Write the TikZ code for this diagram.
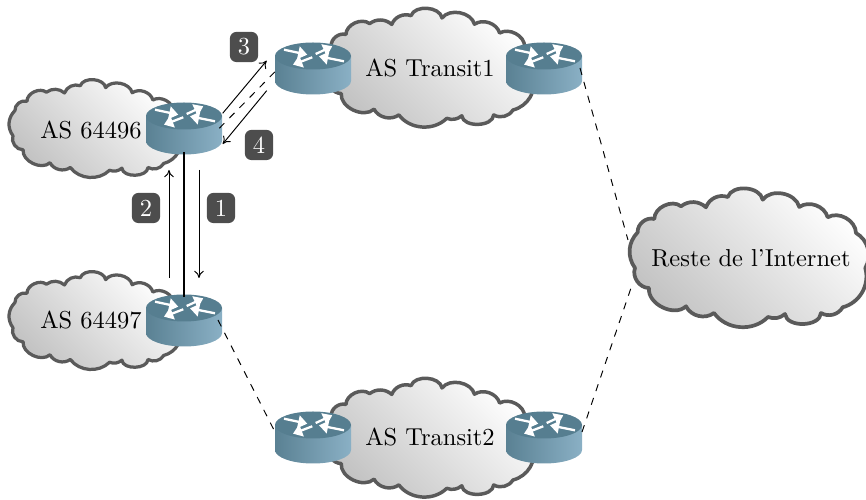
\documentclass[tikz,border=0pt]{standalone}
\usetikzlibrary{arrows.meta,calc}
\definecolor{rtop}{HTML}{567E90}
\definecolor{rl}{HTML}{5A8193}
\definecolor{rr}{HTML}{8AB0C5}
\definecolor{cloudedge}{HTML}{5A5A5A}
\definecolor{badgefill}{HTML}{4D4D4D}
\tikzset{
  cloudbody/.style={draw=cloudedge,line join=round,left color=black!24,right color=white,shading angle=135},
  astext/.style={shape=rectangle,inner sep=0pt,text=black,font=\fontsize{10.2}{12}\selectfont},
  routerbox/.style={shape=rectangle,minimum width=76*0.4167pt,minimum height=52*0.4167pt,inner sep=0pt,outer sep=0pt},
  badge/.style={shape=rectangle,rounded corners=2.8pt,fill=badgefill,text=white,minimum width=11.8pt,minimum height=12.6pt,inner sep=0pt,font=\fontsize{10.2}{12}\selectfont},
  wire/.style={line width=0.4pt,-{To[length=3pt,width=4pt]}},
  dashwire/.style={line width=0.4pt,dash pattern=on 3pt off 3pt},
  whitearrow/.style={white,line width=0.95pt,-{Triangle[length=3.8pt,width=5.2pt]}},
  bl/.style={bend left=#1},
}
\newcommand{\cloudat}[5]{%
  \begin{scope}[shift={(#1,#2)},xscale=#3,yscale=#4]
    \path[cloudbody,line width=#5]
      (-110.3,-24.7) to[bl=55] (-93.7,-38) to[bl=65] (-67,-50.7) to[bl=40] (-42,-49.7)
      to[bl=45] (-20.3,-60) to[bl=75] (14.7,-57.3) to[bl=65] (51.3,-50) to[bl=55] (79.7,-39.7)
      to[bl=60] (108,-24) to[bl=45] (117.3,11) to[bl=45] (94.7,50.3) to[bl=45] (73,56)
      to[bl=85] (37,57) to[bl=30] (20,60) to[bl=50] (-34,56) to[bl=50] (-62,49.3)
      to[bl=70] (-99,31) to[bl=55] (-113,11) to[bl=40] (-110.3,-24.7) -- cycle;
  \end{scope}
}
\newcommand{\router}[3]{%
  \begin{scope}[shift={(#2,#3)}]
    \path[left color=rl,right color=rr] (-38,-12) -- (-38,13) arc[start angle=180,end angle=0,x radius=38,y radius=13.5] -- (38,-12) -- cycle;
    \fill[rtop] (0,-12) ellipse[x radius=38,y radius=13.5];
    \draw[whitearrow] (-29,-18.3) -- (-5.7,-13.3);
    \draw[whitearrow] (2.7,-14) -- (19.3,-21.7);
    \draw[whitearrow] (-0.7,-10.7) -- (-20,-3.3);
    \draw[whitearrow] (31,-6.7) -- (6,-11.7);
  \end{scope}
  \node[routerbox] (#1) at (#2,#3) {};
}
\begin{document}
\begin{tikzpicture}[x=0.4167pt,y=-0.4167pt]
\useasboundingbox (0,0) rectangle (866,500);
\cloudat{95}{128}{.726}{.705}{1.35pt}
\cloudat{95}{320}{.726}{.705}{1.35pt}
\cloudat{429}{67}{.886}{.856}{1.45pt}
\cloudat{429}{437}{.886}{.856}{1.45pt}
\cloudat{748}{257}{1}{1}{1.55pt}
\node[astext] (c1) at (91,130) {AS 64496};
\node[astext] (c2) at (91,320) {AS 64497};
\node[astext] (t1) at (430,68) {AS Transit1};
\node[astext] (t2) at (430,437) {AS Transit2};
\node[astext] (net) at (751,258) {Reste de l'Internet};
\coordinate (netu) at (628,240);
\coordinate (netd) at (632,285);
\router{r1}{184}{128}
\router{r2}{184}{320}
\router{a1}{313}{68}
\router{b1}{544}{68}
\router{a2}{313}{437}
\router{b2}{544}{437}
\draw[line width=0.8pt] ($(r1.south)+(0,-2)$) -- ($(r2.north)+(0,3)$);
\draw[wire] ($(r2.north)+(-15,-16)$) -- ($(r1.south)+(-15,16)$);
\draw[wire] ($(r1.south)+(15,16)$) -- ($(r2.north)+(15,-16)$);
\draw[wire] ($(r1.east)+(0.7,-14.7)$) -- ($(a1.west)+(-8.3,-7.3)$);
\draw[dashwire] ($(r1.east)+(-2.7,0.3)$) -- ($(a1.west)+(2.7,1)$);
\draw[wire] ($(a1.west)+(-8.3,22.7)$) -- ($(r1.east)+(0.7,16)$);
\draw[dashwire] ($(r2.east)+(-4,0)$) -- ($(a2.west)+(0,-5)$);
\draw[dashwire] ($(b1.east)+(-2,0)$) -- (netu);
\draw[dashwire] ($(b2.east)+(0,-5)$) -- (netd);
\node[badge] (n3) at (244,47) {3};
\node[badge] (n4) at (259,145) {4};
\node[badge] (n2) at (146,208) {2};
\node[badge] (n1) at (221,208) {1};
\end{tikzpicture}
\end{document}
